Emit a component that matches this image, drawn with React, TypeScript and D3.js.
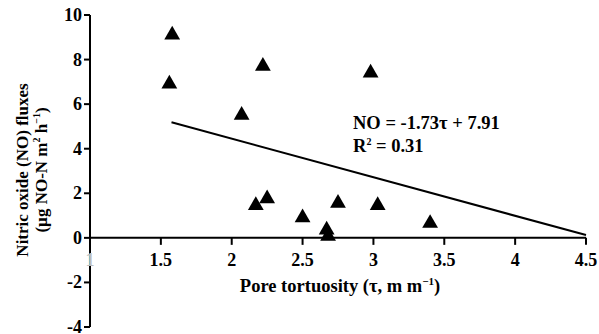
import React from "react";
import * as d3 from "d3";

const tortuosity = [1.58, 1.56, 2.07, 2.22, 2.98, 2.17, 2.25, 2.5, 2.67, 2.68, 2.75, 3.03, 3.4];
const noFlux = [9.15, 6.95, 5.55, 7.75, 7.45, 1.5, 1.8, 0.95, 0.4, 0.12, 1.6, 1.5, 0.7];
const xTicks = [1, 1.5, 2, 2.5, 3, 3.5, 4, 4.5];
const yTicks = [-4, -2, 0, 2, 4, 6, 8, 10];
const slope = -1.73;
const intercept = 7.91;
const fitRange = [1.575, 4.5];

export default function App() {
  const W = 599, H = 334;
  const x = d3.scaleLinear().domain([1, 4.5]).range([90, 586]);
  const y = d3.scaleLinear().domain([-4, 10]).range([327, 15]);
  const font = "Liberation Serif, DejaVu Serif, serif";
  const line = d3.line<number>().x((d) => x(d)).y((d) => y(slope * d + intercept));
  const tri = d3.symbol().type(d3.symbolTriangle).size(108)();
  return (
    <svg width={W} height={H} style={{ position: "absolute", left: 0, top: 0, background: "#fff", fontFamily: font }}>
      {/* y axis */}
      <line x1={x(1)} x2={x(1)} y1={y(10)} y2={y(-4)} stroke="#000" strokeWidth={2} />
      {yTicks.map((t) => (
        <g key={"y" + t}>
          <line x1={x(1) - 6} x2={x(1)} y1={y(t)} y2={y(t)} stroke="#000" strokeWidth={2} />
          <text x={x(1) - 8} y={y(t)} dy="0.33em" textAnchor="end" fontSize={18} fontWeight="bold" style={{ fontFamily: font }}>{t}</text>
        </g>
      ))}
      {/* x axis */}
      <line x1={x(1)} x2={x(4.5)} y1={y(0)} y2={y(0)} stroke="#000" strokeWidth={2} />
      {xTicks.map((t) => (
        <g key={"x" + t}>
          {t !== 1 && <line x1={x(t)} x2={x(t)} y1={y(0)} y2={y(0) + 7} stroke="#000" strokeWidth={2} />}
          <text x={x(t)} y={y(0) + 28} textAnchor="middle" fontSize={18} fontWeight="bold" fill={t === 1 ? "#bbb" : "#000"} style={{ fontFamily: font }}>{t}</text>
        </g>
      ))}
      {/* regression line */}
      <path d={line(fitRange) || ""} fill="none" stroke="#000" strokeWidth={2} />
      {/* points */}
      {tortuosity.map((tv, i) => (
        <path key={i} d={tri || ""} transform={`translate(${x(tv)},${y(noFlux[i]) + 1})`} fill="#000" />
      ))}
      {/* annotation */}
      <g style={{ fontFamily: font }} fontSize={18.5} fontWeight="bold">
        <text x={353} y={129}>NO = -1.73τ + 7.91</text>
        <text x={353} y={152}>R<tspan dy={-7} fontSize={10}>2</tspan><tspan dy={7}> = 0.31</tspan></text>
        {/* x label */}
        <text x={340} y={292} textAnchor="middle">
          Pore tortuosity (τ, m m<tspan dy={-7} fontSize={11}>−1</tspan><tspan dy={7}>)</tspan>
        </text>
      </g>
      {/* y label */}
      <g transform="rotate(-90)" style={{ fontFamily: font }} fontSize={17} fontWeight="bold">
        <text x={-170} y={28} textAnchor="middle">Nitric oxide (NO) fluxes</text>
        <text x={-170} y={47} textAnchor="middle">
          (µg NO-N m<tspan dy={-7} fontSize={10}>2</tspan><tspan dy={7}> h</tspan><tspan dy={-7} fontSize={10}>−1</tspan><tspan dy={7}>)</tspan>
        </text>
      </g>
    </svg>
  );
}
